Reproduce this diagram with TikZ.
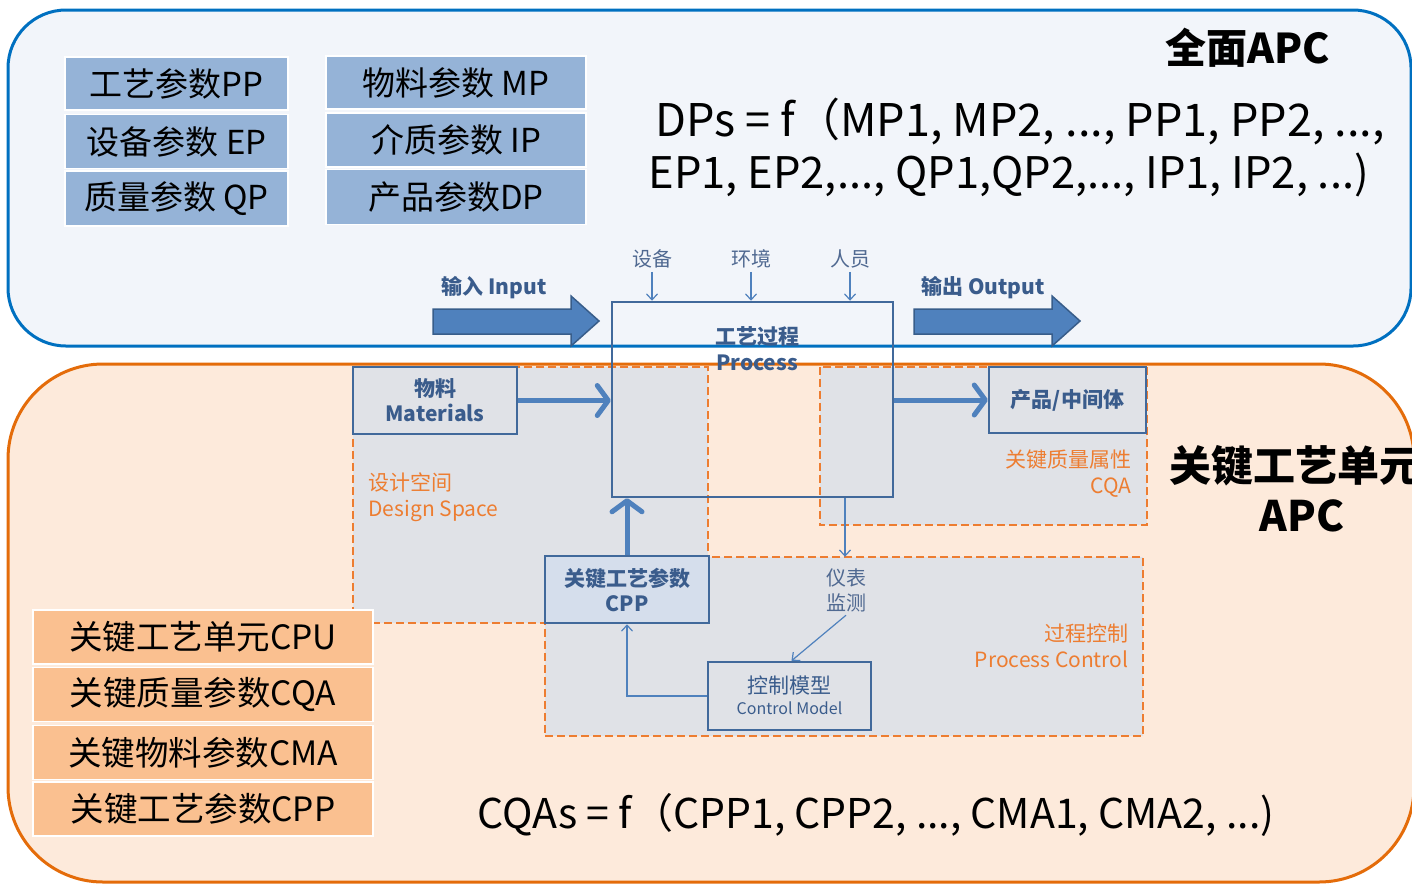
\documentclass[tikz,border=0pt]{standalone}
\usepackage{fontspec}
\setmainfont{Noto Sans CJK SC}
\usetikzlibrary{arrows.meta}
\definecolor{topfill}{RGB}{242,245,250}
\definecolor{topline}{RGB}{0,112,192}
\definecolor{botfill}{RGB}{253,234,219}
\definecolor{botline}{RGB}{228,108,10}
\definecolor{grayfill}{RGB}{224,226,231}
\definecolor{dorange}{RGB}{237,125,49}
\definecolor{bxline}{RGB}{65,105,155}
\definecolor{bxtext}{RGB}{58,92,140}
\definecolor{arrfill}{RGB}{79,129,189}
\definecolor{arredge}{RGB}{56,93,138}
\definecolor{steel}{RGB}{149,179,215}
\definecolor{apricot}{RGB}{250,192,144}
\definecolor{cppfill}{RGB}{213,222,236}
\definecolor{lbltext}{RGB}{80,105,145}
\tikzset{
  param/.style={fill=steel, draw=white, line width=1.5pt, inner sep=0pt, font=\fontsize{33}{36}\selectfont},
  crit/.style={fill=apricot, draw=white, line width=1.5pt, inner sep=0pt, minimum width=340pt, minimum height=54pt, font=\fontsize{33.5}{36}\selectfont},
  region/.style={fill=grayfill, inner sep=0pt},
  dashborder/.style={draw=dorange, line width=2.5pt, dash pattern=on 8pt off 4pt},
  bluebox/.style={draw=bxline, line width=2.5pt, fill=grayfill, inner sep=0pt, align=center, text=bxtext},
  thickarr/.style={draw=arrfill, line width=5pt, -{Straight Barb[length=11pt,width=30pt,round]}},
  thinarr/.style={draw=arrfill, line width=1.2pt, -{Straight Barb[length=6pt,width=11pt]}},
  blockarr/.style={fill=arrfill, draw=arredge, line width=1.5pt},
  smalllbl/.style={text=lbltext, font=\fontsize{20}{24}\selectfont},
  orangelbl/.style={text=dorange, font=\fontsize{21}{26}\selectfont},
}
\begin{document}
\begin{tikzpicture}[x=1pt,y=-1pt]
\useasboundingbox (0,0) rectangle (1412,884);
\clip (0,0) rectangle (1412,884);
% main panels
\draw[fill=topfill, draw=topline, line width=3pt, rounded corners=58pt] (8,10) rectangle (1411,346);
\draw[fill=botfill, draw=botline, line width=3pt, rounded corners=95pt] (8,364) rectangle (1414,882);
% top-left parameter boxes
\node[param, minimum width=223pt, minimum height=53pt] (pp) at (176.5,83.5) {工艺参数PP};
\node[param, minimum width=223pt, minimum height=54pt] (ep) at (176.5,141.5) {设备参数 EP};
\node[param, minimum width=223pt, minimum height=55pt] (qp) at (176.5,198.5) {质量参数 QP};
\node[param, minimum width=260pt, minimum height=53pt] (mp) at (456,82.5) {物料参数 MP};
\node[param, minimum width=260pt, minimum height=54pt] (ip) at (456,140) {介质参数 IP};
\node[param, minimum width=260pt, minimum height=55pt] (dp) at (456,197) {产品参数DP};
% titles and formulas
\node[anchor=west, font=\fontsize{41}{44}\selectfont\bfseries] (qm) at (1162,48) {全面APC};
\node[anchor=west, font=\fontsize{45}{48}\selectfont] (f1) at (652,122) {DPs = f（MP1, MP2, ..., PP1, PP2, ...,};
\node[anchor=west, font=\fontsize{43.5}{48}\selectfont] (f2) at (645,175) {EP1, EP2,..., QP1,QP2,..., IP1, IP2, ...)};
% block arrows
\draw[blockarr] (433,309) -- (571,309) -- (571,296) -- (599,321) -- (571,346) -- (571,334) -- (433,334) -- cycle;
\draw[blockarr] (914,309) -- (1052,309) -- (1052,296) -- (1080,321) -- (1052,346) -- (1052,334) -- (914,334) -- cycle;
\node[anchor=west, text=bxtext, font=\fontsize{21}{24}\selectfont\bfseries] (inl) at (438,288) {输入 Input};
\node[anchor=west, text=bxtext, font=\fontsize{21}{24}\selectfont\bfseries] (outl) at (918,288) {输出 Output};
% regions
\node[region, minimum width=355pt, minimum height=256pt] (ds) at (530.5,495) {};
\node[region, minimum width=327pt, minimum height=158pt] (cq) at (983.5,446) {};
\node[region, minimum width=598pt, minimum height=179pt] (pc) at (844,646.5) {};
\draw[dashborder] (ds.north west) rectangle (ds.south east);
\draw[dashborder] (cq.north west) rectangle (cq.south east);
\draw[dashborder] (pc.north west) rectangle (pc.south east);
% boxes
\node[bluebox, minimum width=164pt, minimum height=67pt, font=\fontsize{21}{25}\selectfont\bfseries] (mat) at (435,400.5) {物料\\Materials};
\node[bluebox, minimum width=157pt, minimum height=66pt, font=\fontsize{21}{25}\selectfont\bfseries] (prod) at (1067.5,400) {产品/中间体};
\node[bluebox, fill=cppfill, minimum width=164pt, minimum height=67pt, font=\fontsize{21}{25}\selectfont\bfseries] (cpp) at (627,589.5) {关键工艺参数\\CPP};
\node[bluebox, minimum width=163pt, minimum height=68pt] (cm) at (789.5,696) {};
\node[text=bxtext, font=\fontsize{21}{24}\selectfont] (cmt1) at (789.5,685) {控制模型};
\node[text=bxtext, font=\fontsize{16}{20}\selectfont] (cmt2) at (789.5,708) {Control Model};
\node[draw=bxline, line width=2.5pt, minimum width=281pt, minimum height=195pt, inner sep=0pt] (proc) at (752.5,399.5) {};
% labels on top of process
\node[smalllbl] (sb) at (652,259) {设备};
\node[smalllbl] (hj) at (751,259) {环境};
\node[smalllbl] (ry) at (850,259) {人员};
\draw[thinarr] (sb.south) -- (sb.south |- proc.north);
\draw[thinarr] (hj.south) -- (hj.south |- proc.north);
\draw[thinarr] (ry.south) -- (ry.south |- proc.north);
% thick arrows
\draw[thickarr] (mat.east) -- (mat.east -| proc.west);
\draw[thickarr] (proc.east |- prod.west) -- (prod.west);
\draw[thickarr] (cpp.north) -- (cpp.north |- proc.south);
% monitoring
\coordinate (mx) at (845,0);
\draw[thinarr] (proc.south -| mx) -- (pc.north -| mx);
\node[smalllbl, align=center, font=\fontsize{20}{25}\selectfont] (yb) at (846,590) {仪表\\监测};
\draw[thinarr] (yb.south) -- ([xshift=2pt]cm.north);
\draw[thinarr] (cm.west) -| (cpp.south);
% orange labels
\node[orangelbl, anchor=north west, align=left] (dsl) at (365,469) {设计空间\\Design Space};
\node[orangelbl, anchor=north east, align=right] (cql) at (1135,446) {关键质量属性\\CQA};
\node[orangelbl, anchor=north east, align=right] (pcl) at (1132,620) {过程控制\\Process Control};
% process title
\node[text=bxtext, align=center, font=\fontsize{21}{26}\selectfont\bfseries] (pt) at (757,349) {工艺过程\\Process};
% right title
\node[anchor=west, font=\fontsize{42}{46}\selectfont\bfseries] (kt) at (1166,466) {关键工艺单元};
\node[font=\fontsize{42}{46}\selectfont\bfseries] (apc) at (1302,516) {APC};
% bottom-left boxes
\node[crit] (c1) at (203,637) {关键工艺单元CPU};
\node[crit] (c2) at (203,694.5) {关键质量参数CQA};
\node[crit] (c3) at (203,752.5) {关键物料参数CMA};
\node[crit] (c4) at (203,809) {关键工艺参数CPP};
% bottom formula
\node[font=\fontsize{41}{44}\selectfont] (f3) at (876,815) {CQAs = f（CPP1, CPP2, ..., CMA1, CMA2, ...)};
\end{tikzpicture}
\end{document}
